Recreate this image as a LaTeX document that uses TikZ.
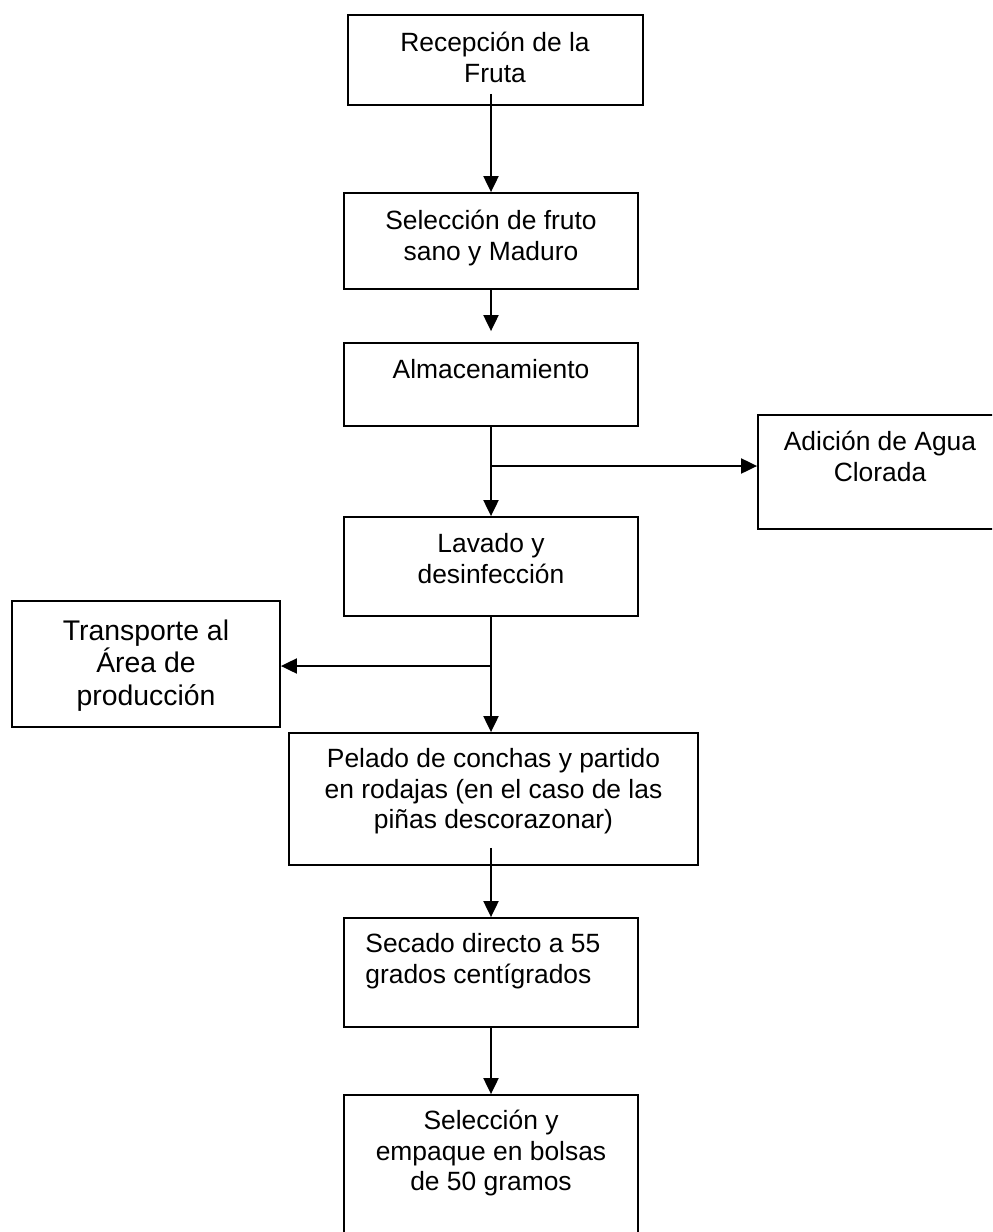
\documentclass[tikz,border=0pt]{standalone}
\usepackage{fontspec}
\setmainfont{Liberation Sans}
\usetikzlibrary{arrows.meta,fit}
\newcommand{\sx}{\rule[-0.24em]{0pt}{1.1em}}
\tikzset{
  box/.style={draw, line width=0.9pt, inner sep=0pt},
  txt/.style={font=\fontsize{13.2}{15.2}\selectfont, align=center, inner sep=0pt},
  bigtxt/.style={font=\fontsize{14.2}{16.3}\selectfont, align=center, inner sep=0pt},
  arr/.style={line width=1pt, -{Triangle[length=8pt,width=7.5pt]}},
}
\begin{document}
\begin{tikzpicture}[x=0.5pt,y=-0.5pt]
\useasboundingbox (0,0) rectangle (992,1232);
\clip (0,0) rectangle (992,1232);
% boxes
\node[box, fit={(348,15) (643,105)}] (b1) {};
\node[box, fit={(344,193) (638,289)}] (b2) {};
\node[box, fit={(344,343) (638,426)}] (b3) {};
\node[box, fit={(758,415) (1002,529)}] (b4) {};
\node[box, fit={(344,517) (638,616)}] (b5) {};
\node[box, fit={(12,601) (280,727)}] (b6) {};
\node[box, fit={(289,733) (698,865)}] (b7) {};
\node[box, fit={(344,918) (638,1027)}] (b8) {};
\node[box, fit={(344,1095) (638,1250)}] (b9) {};
% texts
\node[txt] (t1) at (495,59) {\sx Recepción de la\\\sx Fruta};
\node[txt] (t2) at (491,237) {\sx Selección de fruto\\\sx sano y Maduro};
\node[txt] (t3) at (491,370) {\sx Almacenamiento};
\node[txt] (t4) at (880,458) {\sx Adición de Agua\\\sx Clorada};
\node[txt] (t5) at (491,560) {\sx Lavado y\\\sx desinfección};
\node[bigtxt] (t6) at (146,664) {\sx Transporte al\\\sx Área de\\\sx producción};
\node[txt] (t7) at (493.5,790) {\sx Pelado de conchas y partido\\\sx en rodajas (en el caso de las\\\sx piñas descorazonar)};
\node[txt, align=left, anchor=west] (t8) at (365,960) {\sx Secado directo a 55\\\sx grados centígrados};
\node[txt] (t9) at (491,1152) {\sx Selección y\\\sx empaque en bolsas\\\sx de 50 gramos};
% connectors
\coordinate (j1) at (491,466);
\coordinate (j2) at (491,666);
\draw[arr, shorten <=-6pt] (b1.south -| b2.north) -- (b2.north);
\draw[arr, shorten >=5.5pt] (b2.south) -- (b3.north);
\draw[arr] (b3.south) -- (b5.north);
\draw[arr] (j1) -- (j1 -| b4.west);
\draw[arr] (b5.south) -- (b5.south |- b7.north);
\draw[arr] (j2) -- (j2 -| b6.east);
\draw[arr, shorten <=-9pt] (b7.south -| b8.north) -- (b8.north);
\draw[arr] (b8.south) -- (b9.north);
\end{tikzpicture}
\end{document}
